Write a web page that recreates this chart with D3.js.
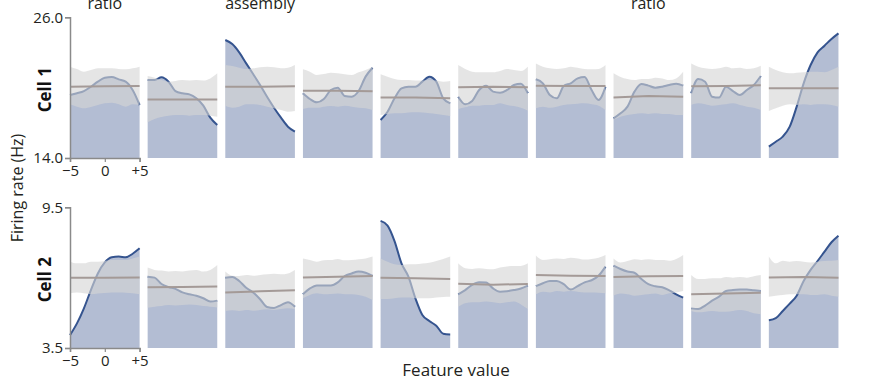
<!DOCTYPE html>
<html><head><meta charset="utf-8">
<script src="https://cdn.jsdelivr.net/npm/d3@7"></script>
<style>body{margin:0;background:#fff;} svg{display:block;font-family:"Open Sans",sans-serif;}</style>
</head><body><svg id="c" width="883" height="383"></svg>
<script>
const xValues = [-5,-4,-3,-2,-1,0,1,2,3,4,5];
const meanX = [-5,0,5];
const xTickValues = [-5,0,5];
const xTickLabels = ["\u22125","0","+5"];
const panelTitles = ["ratio","","assembly","","","","","ratio","",""];
const rowLabels = ["Cell 1","Cell 2"];
const cell1Domain = [14.0, 26.0];
const cell2Domain = [3.5, 9.5];
const cell1Ticks = [14.0, 26.0];
const cell2Ticks = [3.5, 9.5];

const cell1Rate = [
 [19.37,19.52,19.71,20.08,20.51,20.85,20.91,20.71,20.51,19.80,18.52],
 [20.65,20.65,20.88,20.51,19.71,19.52,19.43,19.09,18.46,17.44,16.81],
 [24.06,23.72,23.01,22.07,21.16,20.23,19.23,18.29,17.44,16.67,16.25],
 [19.52,19.03,18.75,19.03,19.80,20.00,19.29,19.23,19.71,20.94,21.70],
 [17.24,17.95,19.09,19.94,20.08,20.08,20.51,20.94,20.51,19.09,18.66],
 [19.23,18.58,18.86,19.80,20.17,19.66,19.57,19.80,20.23,20.34,19.52],
 [20.71,20.37,19.37,19.09,20.14,20.37,20.79,20.91,19.80,18.95,20.08],
 [17.38,17.81,18.38,19.66,20.31,20.17,20.00,20.08,20.23,20.34,20.17],
 [19.52,20.74,20.51,19.23,19.15,20.08,19.71,19.37,19.80,20.23,20.99],
 [14.97,15.39,15.82,16.67,18.38,20.37,21.93,23.01,23.58,24.15,24.63]
];
const cell1Upper = [
 [21.79,21.59,21.36,21.50,21.65,21.65,21.65,21.59,21.56,21.65,21.79],
 [20.99,20.85,20.65,20.51,20.57,20.65,20.60,20.65,20.60,20.79,21.22],
 [21.93,21.85,21.70,21.59,21.65,21.73,21.79,21.73,21.65,21.70,21.93],
 [21.56,21.36,21.08,21.16,21.28,21.22,21.14,21.08,21.31,21.50,21.79],
 [21.14,20.94,20.74,20.65,20.65,20.60,20.62,20.65,20.60,20.51,20.57],
 [21.93,21.59,21.36,21.31,21.31,21.31,21.42,21.59,21.50,21.42,21.79],
 [22.07,21.79,21.65,21.59,21.65,21.79,21.70,21.59,21.56,21.59,21.93],
 [21.22,20.91,20.74,20.65,20.74,20.74,20.85,20.79,20.65,20.79,21.36],
 [22.07,21.79,21.65,21.59,21.65,21.79,21.65,21.70,21.59,21.65,21.87],
 [21.79,21.50,21.31,21.22,21.28,21.31,21.36,21.36,21.31,21.50,21.79]
];
const cell1Lower = [
 [18.58,18.38,18.24,18.35,18.52,18.66,18.72,18.58,18.38,18.58,18.52],
 [17.04,17.33,17.50,17.61,17.67,17.67,17.61,17.67,17.67,17.61,17.52],
 [18.46,18.29,18.38,18.58,18.58,18.52,18.38,18.24,18.09,17.95,18.01],
 [18.18,18.29,18.29,18.38,18.43,18.38,18.46,18.38,18.29,18.24,18.09],
 [17.67,17.75,17.81,17.81,17.87,17.90,17.87,17.81,17.75,17.67,17.58],
 [18.18,18.32,18.46,18.46,18.52,18.52,18.66,18.52,18.43,18.29,18.04],
 [18.24,18.38,18.29,18.38,18.52,18.58,18.63,18.66,18.58,18.46,18.09],
 [17.24,17.52,17.67,17.75,17.81,17.75,17.81,17.75,17.75,17.67,17.67],
 [18.52,18.66,18.58,18.46,18.52,18.58,18.66,18.52,18.38,18.29,18.09],
 [18.01,18.24,18.46,18.58,18.52,18.58,18.52,18.58,18.58,18.52,18.38]
];
const cell1Mean = [
 [20.08,20.11,20.14],[19.00,19.00,19.00],[20.08,20.08,20.11],[19.74,19.74,19.69],[19.17,19.15,19.09],
 [20.03,20.08,20.03],[20.17,20.14,20.14],[19.17,19.29,19.23],[20.11,20.14,20.20],[19.94,19.94,19.94]
];

const cell2Rate = [
 [4.05,4.55,5.19,5.97,6.68,7.15,7.37,7.40,7.37,7.52,7.75],
 [6.54,6.50,6.23,6.10,6.02,5.87,5.79,5.73,5.62,5.48,5.52],
 [6.50,6.53,6.36,6.07,5.87,5.58,5.25,5.21,5.33,5.45,5.26],
 [5.79,6.04,6.17,6.17,6.17,6.30,6.57,6.68,6.76,6.71,6.58],
 [8.92,8.72,8.06,7.11,6.54,5.62,4.91,4.65,4.45,4.11,4.08],
 [5.79,5.97,6.19,6.30,6.29,6.04,5.90,5.92,5.97,6.04,6.16],
 [6.14,6.26,6.36,6.36,6.22,5.99,6.14,6.30,6.39,6.58,6.97],
 [7.01,6.87,6.76,6.71,6.44,6.22,6.13,6.09,5.96,5.79,5.65],
 [5.19,5.16,5.31,5.52,5.69,5.93,5.97,5.99,6.00,5.96,5.93],
 [4.68,4.77,5.08,5.39,5.73,6.36,6.83,7.21,7.61,8.01,8.29]
];
const cell2Upper = [
 [7.18,7.11,7.11,7.18,7.18,7.21,7.25,7.25,7.25,7.32,7.40],
 [6.93,6.83,6.80,6.76,6.78,6.76,6.80,6.83,6.76,6.83,7.04],
 [6.76,6.58,6.57,6.61,6.58,6.61,6.64,6.67,6.64,6.68,6.83],
 [7.32,7.25,7.18,7.24,7.25,7.30,7.24,7.25,7.28,7.32,7.40],
 [7.32,7.18,7.07,7.04,7.07,7.07,7.10,7.14,7.21,7.30,7.40],
 [7.11,6.90,6.87,6.90,6.87,6.86,6.93,6.98,7.00,7.00,7.11],
 [7.44,7.25,7.28,7.32,7.30,7.35,7.32,7.27,7.30,7.35,7.47],
 [7.32,7.15,7.21,7.28,7.25,7.28,7.25,7.25,7.22,7.30,7.47],
 [6.61,6.44,6.44,6.47,6.47,6.53,6.50,6.53,6.50,6.56,6.61],
 [7.40,7.11,7.22,7.18,7.21,7.18,7.15,7.18,7.21,7.22,7.25]
];
const cell2Lower = [
 [5.83,5.87,5.83,5.79,5.82,5.85,5.87,5.87,5.86,5.83,5.79],
 [5.22,5.26,5.29,5.33,5.31,5.33,5.36,5.33,5.29,5.26,5.23],
 [5.08,5.11,5.08,5.12,5.09,5.12,5.15,5.12,5.16,5.19,5.16],
 [5.62,5.76,5.83,5.79,5.80,5.82,5.79,5.79,5.76,5.69,5.55],
 [5.59,5.59,5.62,5.65,5.65,5.62,5.62,5.62,5.65,5.68,5.69],
 [5.26,5.41,5.45,5.45,5.48,5.45,5.41,5.45,5.48,5.36,5.16],
 [5.79,5.90,5.87,5.93,5.90,5.93,5.90,5.87,5.87,5.86,5.83],
 [5.73,5.82,5.79,5.73,5.76,5.79,5.82,5.76,5.83,5.87,5.93],
 [5.08,5.02,5.05,5.08,5.05,5.05,5.08,5.12,5.08,4.98,4.94],
 [5.69,5.73,5.76,5.79,5.79,5.79,5.76,5.76,5.79,5.73,5.69]
];
const cell2Mean = [
 [6.50,6.50,6.51],[6.09,6.10,6.12],[5.87,5.92,5.96],[6.51,6.54,6.57],[6.50,6.47,6.44],
 [6.24,6.20,6.23],[6.61,6.58,6.57],[6.53,6.56,6.57],[5.79,5.82,5.86],[6.51,6.53,6.50]
];

const svg = d3.select("#c");
const panelLeft = 70, panelStep = 77.65, panelW = 69.6;
const rowTops = [17.3, 207.3], rowH = 140.7;
const rows = [
  {label: rowLabels[0], domain: cell1Domain, ticks: cell1Ticks, rate: cell1Rate, upper: cell1Upper, lower: cell1Lower, mean: cell1Mean},
  {label: rowLabels[1], domain: cell2Domain, ticks: cell2Ticks, rate: cell2Rate, upper: cell2Upper, lower: cell2Lower, mean: cell2Mean}
];
const x = d3.scaleLinear().domain([-5,5]).range([0,panelW]);

rows.forEach((row, r) => {
  const y = d3.scaleLinear().domain(row.domain).range([rowH, 0]);
  const top = rowTops[r];
  for (let p = 0; p < 10; p++) {
    const g = svg.append("g").attr("transform", `translate(${panelLeft + p*panelStep},${top})`);
    const rateData = xValues.map((xv,i)=>({x:xv, v:row.rate[p][i]}));
    const bandData = xValues.map((xv,i)=>({x:xv, hi:row.upper[p][i], lo:row.lower[p][i]}));
    const meanData = meanX.map((xv,i)=>({x:xv, v:row.mean[p][i]}));
    g.append("path").datum(rateData)
      .attr("d", d3.area().x(d=>x(d.x)).y0(rowH).y1(d=>y(d.v)).curve(d3.curveMonotoneX))
      .attr("fill", "#b3bdd3");
    g.append("path").datum(rateData)
      .attr("d", d3.line().x(d=>x(d.x)).y(d=>y(d.v)).curve(d3.curveMonotoneX))
      .attr("fill", "none").attr("stroke", "#35548f").attr("stroke-width", 2);
    g.append("path").datum(bandData)
      .attr("d", d3.area().x(d=>x(d.x)).y0(d=>y(d.lo)).y1(d=>y(d.hi)).curve(d3.curveMonotoneX))
      .attr("fill", "#d5d5d5").attr("fill-opacity", 0.62);
    g.append("path").datum(meanData)
      .attr("d", d3.line().x(d=>x(d.x)).y(d=>y(d.v)))
      .attr("fill", "none").attr("stroke", "#a49a97").attr("stroke-width", 2);
    if (r === 0 && panelTitles[p]) {
      svg.append("text").attr("x", panelLeft + p*panelStep + panelW/2).attr("y", 9)
        .attr("text-anchor", "middle").attr("font-size", 16).attr("fill", "#231f20").text(panelTitles[p]);
    }
  }
  const ya = svg.append("g").attr("transform", `translate(${panelLeft},${top})`)
    .call(d3.axisLeft(y).tickValues(row.ticks).tickSize(5).tickPadding(2).tickFormat(d3.format(".1f")));
  const xa = svg.append("g").attr("transform", `translate(${panelLeft},${top+rowH})`)
    .call(d3.axisBottom(x).tickValues(xTickValues).tickSize(4).tickPadding(3).tickFormat((d,i)=>xTickLabels[i]));
  [ya, xa].forEach(a => {
    a.select(".domain").attr("stroke", "#8a8a8a").attr("stroke-width", 1.5);
    a.selectAll(".tick line").attr("stroke", "#8a8a8a").attr("stroke-width", 1.2);
    a.selectAll("text").attr("font-size", 15).attr("fill", "#231f20").attr("font-family", '"Open Sans",sans-serif');
  });
  svg.append("text").attr("transform", `translate(51,${top + rowH/2 + 2}) rotate(-90)`)
    .attr("text-anchor", "middle").attr("font-size", 17).attr("font-weight", "bold").attr("fill", "#111")
    .text(row.label);
});

svg.append("text").attr("transform", "translate(23,188) rotate(-90)")
  .attr("text-anchor", "middle").attr("font-size", 16).attr("fill", "#231f20").text("Firing rate (Hz)");
svg.append("text").attr("x", 456).attr("y", 376).attr("text-anchor", "middle")
  .attr("font-size", 17).attr("fill", "#231f20").text("Feature value");
</script>
</body></html>
